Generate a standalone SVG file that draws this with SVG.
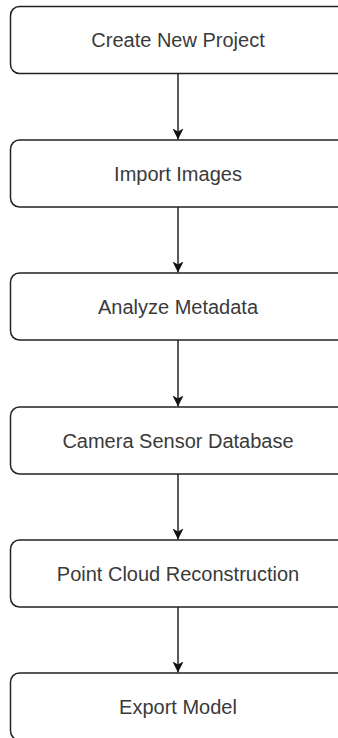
<svg xmlns="http://www.w3.org/2000/svg" width="338" height="738" viewBox="0 0 338 738">
<defs>
<style>
.box{fill:#fff;stroke:#222;stroke-width:1.5}
.lbl{font-family:"Liberation Sans",Arial,sans-serif;font-size:20px;fill:#3a3a3a;text-anchor:middle}
.edge{stroke:#222;stroke-width:1.5;fill:none}
</style>
<marker id="ah" markerWidth="12" markerHeight="12" refX="11" refY="6" orient="auto" markerUnits="userSpaceOnUse">
<path d="M0,0.5 L11,6 L0,11.5 L3,6 Z" fill="#111"/>
</marker>
</defs>
<rect width="338" height="738" fill="#fff"/>
<g id="connectors">
<line class="edge" x1="178" y1="73" x2="178" y2="139.5" marker-end="url(#ah)"/>
<line class="edge" x1="178" y1="207" x2="178" y2="272.5" marker-end="url(#ah)"/>
<line class="edge" x1="178" y1="340" x2="178" y2="406.5" marker-end="url(#ah)"/>
<line class="edge" x1="178" y1="474" x2="178" y2="539.5" marker-end="url(#ah)"/>
<line class="edge" x1="178" y1="607" x2="178" y2="672.5" marker-end="url(#ah)"/>
</g>
<g id="n1"><rect class="box" x="10.5" y="6.5" width="336" height="67" rx="9"/><text class="lbl" x="178" y="47">Create New Project</text></g>
<g id="n2"><rect class="box" x="10.5" y="140" width="336" height="67" rx="9"/><text class="lbl" x="178" y="180.5">Import Images</text></g>
<g id="n3"><rect class="box" x="10.5" y="273" width="336" height="67" rx="9"/><text class="lbl" x="178" y="313.5">Analyze Metadata</text></g>
<g id="n4"><rect class="box" x="10.5" y="407" width="336" height="67" rx="9"/><text class="lbl" x="178" y="447.5">Camera Sensor Database</text></g>
<g id="n5"><rect class="box" x="10.5" y="540" width="336" height="67" rx="9"/><text class="lbl" x="178" y="580.5">Point Cloud Reconstruction</text></g>
<g id="n6"><rect class="box" x="10.5" y="673" width="336" height="67" rx="9"/><text class="lbl" x="178" y="713.5">Export Model</text></g>
</svg>
